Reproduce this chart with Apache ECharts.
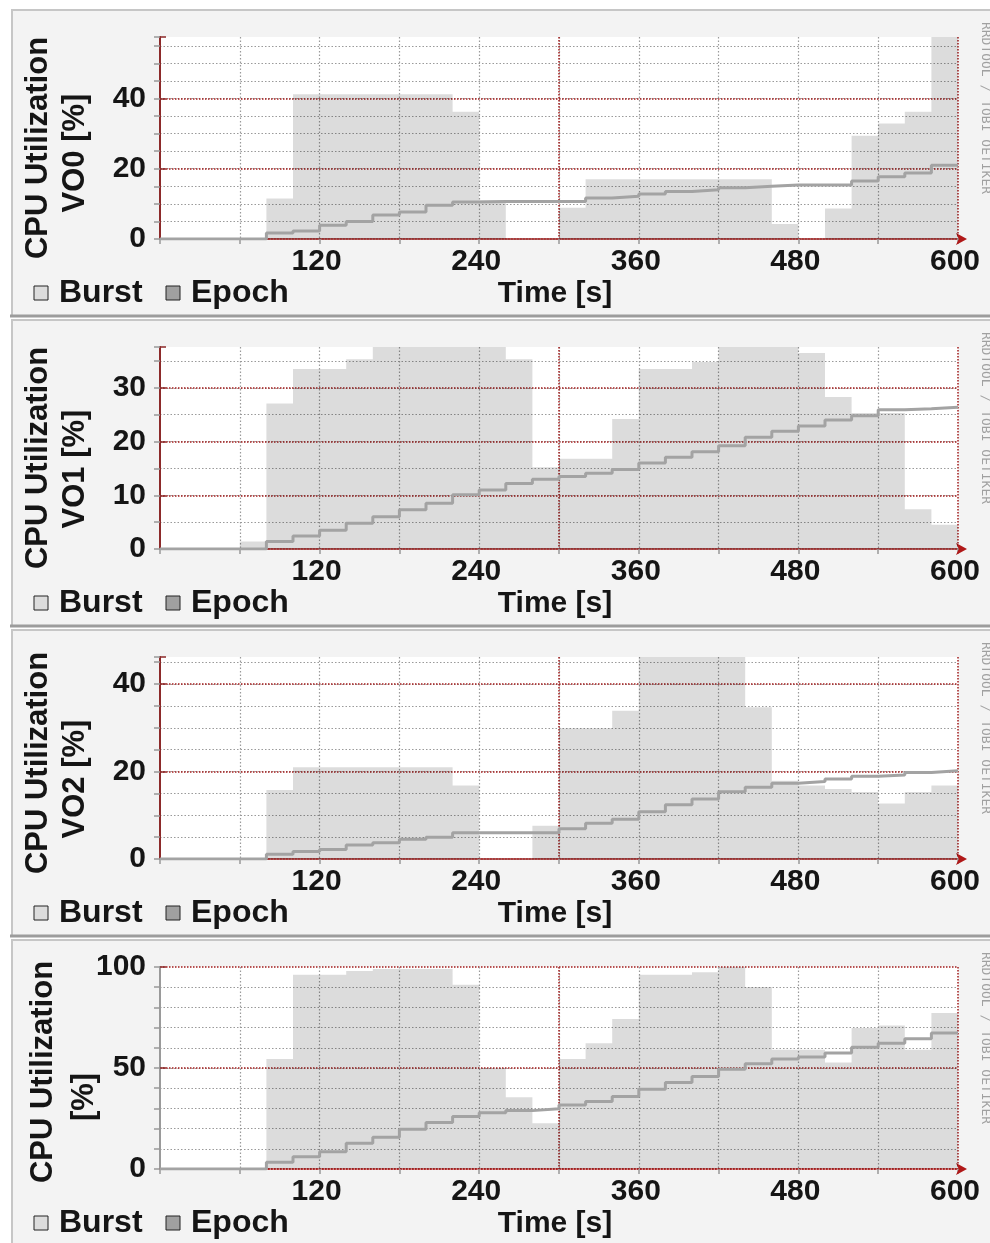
<!DOCTYPE html>
<html><head><meta charset="utf-8">
<script src="https://cdn.jsdelivr.net/npm/echarts@6/dist/echarts.min.js"></script>
<style>html,body{margin:0;padding:0;background:#fff}#c{width:990px;height:1243px}</style>
</head><body><div id="c"></div>
<script>
// ---- data ----
const timeStarts = [0,20,40,60,80,100,120,140,160,180,200,220,240,260,280,300,320,340,360,380,400,420,440,460,480,500,520,540,560,580];
const timeEnd = 600;
const xTickValues = [120,240,360,480,600];
const xTickLabels = ['120','240','360','480','600'];

const unitNames = ['VO0 [%]','VO1 [%]','VO2 [%]','[%]'];
const legendNames = ['Burst','Epoch'];

const burstVO0 = [0,0,0,0,11.5,41.2,41.2,41.2,41.2,41.2,41.2,36.2,11,0,0,8.9,17,17,17,17,17,17,17,4.3,0,8.7,29.4,32.9,36.2,58];
const epochVO0 = [0,0,0,0,1.7,2.3,3.9,5.0,6.8,7.7,9.6,10.5,10.7,10.7,10.7,10.7,11.7,12.2,12.8,13.5,14.0,14.6,15.0,15.4,15.4,15.4,16.5,17.7,18.8,21.0];

const burstVO1 = [0,0,0,1.4,27.1,33.5,33.5,35.3,39,39,39,39,39,35.3,15.2,16.8,16.8,24.2,33.5,33.5,34.8,39,39,39,36.5,28.3,25.3,25.3,7.4,4.5];
const epochVO1 = [0,0,0,0,1.4,2.4,3.5,4.8,6.0,7.3,8.5,10.1,11.0,12.2,13.0,13.5,14.1,14.8,16.0,17.1,18.1,19.2,20.8,21.9,22.9,24.0,24.8,25.9,26.1,26.4];

const burstVO2 = [0,0,0,0,15.8,21,21,21,21,21,21,16.8,0,0,7.6,29.9,29.9,33.9,48,48,48,48,34.7,17.9,16.8,16.0,15.3,12.7,15.3,16.8];
const epochVO2 = [0,0,0,0,1.1,1.7,2.2,3.2,3.7,4.5,5.0,6.0,6.0,6.0,6.0,6.9,8.2,9.1,10.8,12.4,13.7,15.4,16.4,17.3,17.7,18.3,18.9,19.2,19.8,20.2];

const burstAll = [0,0,0,0,54.4,96.2,96.2,98,99,99,99,91.2,50,35.5,22.6,54.4,62.3,74.2,96.2,96.2,97.4,100,90.1,59.0,59.0,52.7,69.8,71.1,59.0,77.2];
const epochAll = [0,0,0,0,3.3,6.1,8.6,12.7,15.7,19.7,23.0,26.0,27.9,28.9,29.8,31.7,33.4,35.9,39.5,42.8,45.8,49.4,52.1,54.4,55.4,57.4,60.3,62.3,64.5,67.3];

const yMaxes = [57.5, 37.6, 46.2, 100];
const yMinorSteps = [5,5,5,10];
const yMajorSteps = [20,10,20,50];
const yTicks0 = [0,20,40];
const yTicks1 = [0,10,20,30];
const yTicks2 = [0,20,40];
const yTicks3 = [0,50,100];

// ---- build ----
const bursts = [burstVO0, burstVO1, burstVO2, burstAll];
const epochs = [epochVO0, epochVO1, epochVO2, epochAll];
const yTicks = [yTicks0, yTicks1, yTicks2, yTicks3];

const FONT = "'Liberation Sans', Arial, sans-serif";
const txt = {fontFamily: FONT, fontWeight: 'bold', fontSize: 30, color: '#151515',
  textShadowColor: 'rgba(150,20,20,0.85)', textShadowOffsetX: -1, textShadowBlur: 0};
const GREY_DOT = {color: '#9a9a9a', width: 1.2, type: [1.5, 2]};
const RED_DOT = {color: '#a31c1c', width: 1.5, type: [1.5, 1.5]};

function stepData(vals) {
  const d = timeStarts.map((t, k) => [t, vals[k]]);
  d.push([timeEnd, vals[vals.length - 1]]);
  return d;
}

const grids = [], xAxes = [], yAxes = [], series = [], graphics = [];
const PH = 310;
const titlePos = [
  [[38,148],[75,153]],
  [[38,458],[75,469]],
  [[38,763],[75,779]],
  [[43,1072],[84,1097]]
];

for (let i = 0; i < 4; i++) {
  const dy = PH * i;
  grids.push({left: 160, top: 37 + dy, width: 798, height: 202, show: true,
    backgroundColor: '#ffffff', borderWidth: 0, containLabel: false});

  // top axis: minor vertical grid (grey)
  xAxes.push({gridIndex: i, type: 'value', position: 'top', min: 0, max: 600, interval: 60,
    axisLine: {show: i < 3, lineStyle: {color: '#a0a0a0', width: 2}},
    axisTick: {show: true, inside: true, length: 5, lineStyle: {color: '#999', width: 1.5}},
    axisLabel: {show: false},
    splitLine: {show: true, showMinLine: false, showMaxLine: false, lineStyle: GREY_DOT}});
  // bottom axis: major vertical grid (red) + labels
  xAxes.push({gridIndex: i, type: 'value', position: 'bottom', min: 0, max: 600, interval: 300,
    axisLine: {show: true, symbol: ['none', 'arrow'], symbolSize: [9, 11], symbolOffset: [0, 9],
      lineStyle: {color: '#b01818', width: 1.5, type: [1.5, 1.5]}},
    axisTick: {show: false},
    axisLabel: Object.assign({show: true, customValues: xTickValues, margin: 8,
      padding: [0, 6, 0, 0],
      formatter: v => xTickLabels[xTickValues.indexOf(v)] || ''}, txt),
    splitLine: {show: true, showMinLine: false, showMaxLine: true, lineStyle: RED_DOT}});

  // left axis: minor horizontal grid (grey), ticks at every minor step, labels at majors
  yAxes.push({gridIndex: i, type: 'value', position: 'left', min: 0, max: yMaxes[i], interval: yMinorSteps[i],
    axisLine: {show: true, lineStyle: {color: '#a0a0a0', width: 2}},
    axisTick: {show: true, length: 6, lineStyle: {color: '#999', width: 1.5}},
    axisLabel: Object.assign({show: true, customValues: yTicks[i], margin: 14}, txt),
    splitLine: {show: true, showMinLine: false, showMaxLine: false, lineStyle: GREY_DOT}});
  // right axis: major horizontal grid (red)
  yAxes.push({gridIndex: i, type: 'value', position: 'right', min: 0, max: yMaxes[i], interval: yMajorSteps[i],
    axisLine: {show: true, lineStyle: {color: i < 3 ? '#8c2a2a' : '#9a9a9a', width: 2}},
    axisTick: {show: true, length: 6, lineStyle: {color: '#8c2a2a', width: 1.5}},
    axisLabel: {show: false},
    splitLine: {show: true, showMinLine: true, showMaxLine: i === 3, lineStyle: RED_DOT}});

  series.push({name: legendNames[0], type: 'line', xAxisIndex: 2 * i + 1, yAxisIndex: 2 * i,
    data: stepData(bursts[i]), step: 'end', symbol: 'none', clip: true, silent: true,
    lineStyle: {width: 0, opacity: 0},
    areaStyle: {color: 'rgba(0,0,0,0.137)', opacity: 1}, z: 2});
  series.push({name: legendNames[1], type: 'line', xAxisIndex: 2 * i + 1, yAxisIndex: 2 * i,
    data: stepData(epochs[i]), step: 'end', symbol: 'none', clip: true, silent: true,
    lineStyle: {color: '#a3a3a3', width: 3}, z: 3});

  // panel frame
  graphics.push({type: 'rect', z: -10, shape: {x: 12, y: 10 + dy, width: 990, height: 306},
    style: {fill: '#f3f3f3', stroke: '#c6c6c6', lineWidth: 2}});
  graphics.push({type: 'line', z: -9, shape: {x1: 10, y1: 316 + dy, x2: 990, y2: 316 + dy},
    style: {stroke: '#9c9c9c', lineWidth: 3}});

  const ts = {fontFamily: FONT, fontWeight: 'bold', fontSize: 31, fill: '#151515',
    textShadowColor: 'rgba(150,20,20,0.85)', textShadowOffsetX: -1, textShadowBlur: 0,
    textAlign: 'center', textVerticalAlign: 'middle'};
  graphics.push({type: 'text', x: titlePos[i][0][0], y: titlePos[i][0][1], rotation: Math.PI / 2,
    style: Object.assign({text: 'CPU Utilization'}, ts)});
  graphics.push({type: 'text', x: titlePos[i][1][0], y: titlePos[i][1][1], rotation: Math.PI / 2,
    style: Object.assign({text: unitNames[i]}, ts)});

  // legend
  graphics.push({type: 'rect', shape: {x: 34, y: 286 + dy, width: 14, height: 14},
    style: {fill: '#dcdcdc', stroke: '#222', lineWidth: 1}});
  graphics.push({type: 'text', x: 59, y: 293 + dy,
    style: Object.assign({}, ts, {text: legendNames[0], textAlign: 'left', fontSize: 32})});
  graphics.push({type: 'rect', shape: {x: 166, y: 286 + dy, width: 14, height: 14},
    style: {fill: '#a0a0a0', stroke: '#222', lineWidth: 1}});
  graphics.push({type: 'text', x: 191, y: 293 + dy,
    style: Object.assign({}, ts, {text: legendNames[1], textAlign: 'left', fontSize: 32})});
  // x-axis name
  graphics.push({type: 'text', x: 555, y: 294 + dy,
    style: Object.assign({}, ts, {text: 'Time [s]', fontSize: 30})});
  // watermark
  graphics.push({type: 'text', x: 985, y: 108 + dy, rotation: -Math.PI / 2,
    style: {text: 'RRDTOOL / TOBI OETIKER', fontFamily: "'DejaVu Sans Mono', monospace", fontSize: 13,
      fill: '#a0a0a0', textAlign: 'center', textVerticalAlign: 'middle'}});
}

const chart = echarts.init(document.getElementById('c'), null, {renderer: 'canvas'});
chart.setOption({
  animation: false,
  backgroundColor: '#ffffff',
  grid: grids,
  xAxis: xAxes,
  yAxis: yAxes,
  series: series,
  graphic: {elements: graphics}
});
</script>
</body></html>
